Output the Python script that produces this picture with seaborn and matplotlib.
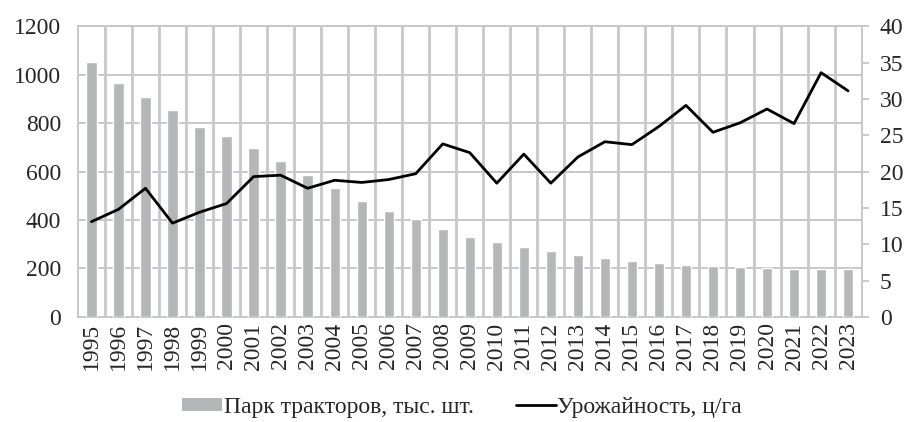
import numpy as np
import pandas as pd
import matplotlib
matplotlib.use("Agg")
import matplotlib.pyplot as plt
import seaborn as sns
from matplotlib.patches import Patch
from matplotlib.lines import Line2D

years = [str(y) for y in range(1995, 2024)]

tractors = [1051, 965, 908, 854, 785, 745, 696, 643, 586, 531,
            480, 438, 403, 363, 329, 308, 290, 273, 256, 245,
            231, 221, 213, 209, 205, 202, 198, 197, 197]

yield_cha = [13.1, 14.8, 17.7, 12.9, 14.4, 15.6, 19.3, 19.5, 17.7, 18.8,
             18.5, 18.9, 19.7, 23.8, 22.6, 18.4, 22.4, 18.4, 22.0, 24.1,
             23.7, 26.2, 29.1, 25.4, 26.7, 28.6, 26.6, 33.6, 31.1]

bar_label = "Парк тракторов, тыс. шт."
line_label = "Урожайность, ц/га"

sns.set_theme(style="white")
plt.rcParams["font.family"] = ["Liberation Serif", "DejaVu Serif"]

df = pd.DataFrame({"year": years, "tractors": tractors, "yield": yield_cha})

grid_color = "#c8c8c8"
bar_color = "#b4b6b7"
fs = 17

fig, ax = plt.subplots(figsize=(9.06, 4.22), dpi=100)
fig.subplots_adjust(left=0.086, right=0.951, top=0.938, bottom=0.249)

sns.barplot(data=df, x="year", y="tractors", color=bar_color, width=0.38,
            saturation=1, ax=ax, zorder=3)
ax.set_ylim(0, 1200)
ax.set_yticks(range(0, 1201, 200))
ax.set_xlim(-0.5, len(years) - 0.5)
ax.grid(True, axis="y", color=grid_color, lw=1.4, zorder=1)
# vertical grid at category boundaries
bounds = np.arange(len(years) - 1) + 0.5
ax.vlines(bounds, 0, 1200, colors=grid_color, lw=2.0, zorder=1)
ax.set_xlabel("")
ax.set_ylabel("")
ax.tick_params(axis="x", length=0, labelsize=fs, rotation=90, pad=4)
ax.tick_params(axis="y", length=0, labelsize=fs, pad=12)
for s in ["left", "bottom", "top"]:
    ax.spines[s].set_color(grid_color)
    ax.spines[s].set_linewidth(1.4)
ax.spines["right"].set_visible(False)

ax2 = ax.twinx()
sns.lineplot(x=np.arange(len(years)), y=yield_cha, color="black", lw=2.0, ax=ax2)
ax2.set_ylim(0, 40)
ax2.set_yticks(range(0, 41, 5))
ax2.tick_params(axis="y", length=5, width=1.4, color=grid_color, labelsize=fs, pad=8)
for s in ["left", "bottom", "top"]:
    ax2.spines[s].set_visible(False)
ax2.spines["right"].set_color(grid_color)
ax2.spines["right"].set_linewidth(1.4)
ax2.grid(False)

handles = [Patch(facecolor=bar_color, edgecolor="none"),
           Line2D([0], [0], color="black", lw=2.0)]
fig.legend(handles, [bar_label, line_label], loc="center", ncol=2,
           bbox_to_anchor=(0.51, 0.035), frameon=False, fontsize=fs,
           handlelength=1.7, handleheight=0.45, handletextpad=0.05,
           columnspacing=1.8)

fig.savefig("out.png", dpi=100)
